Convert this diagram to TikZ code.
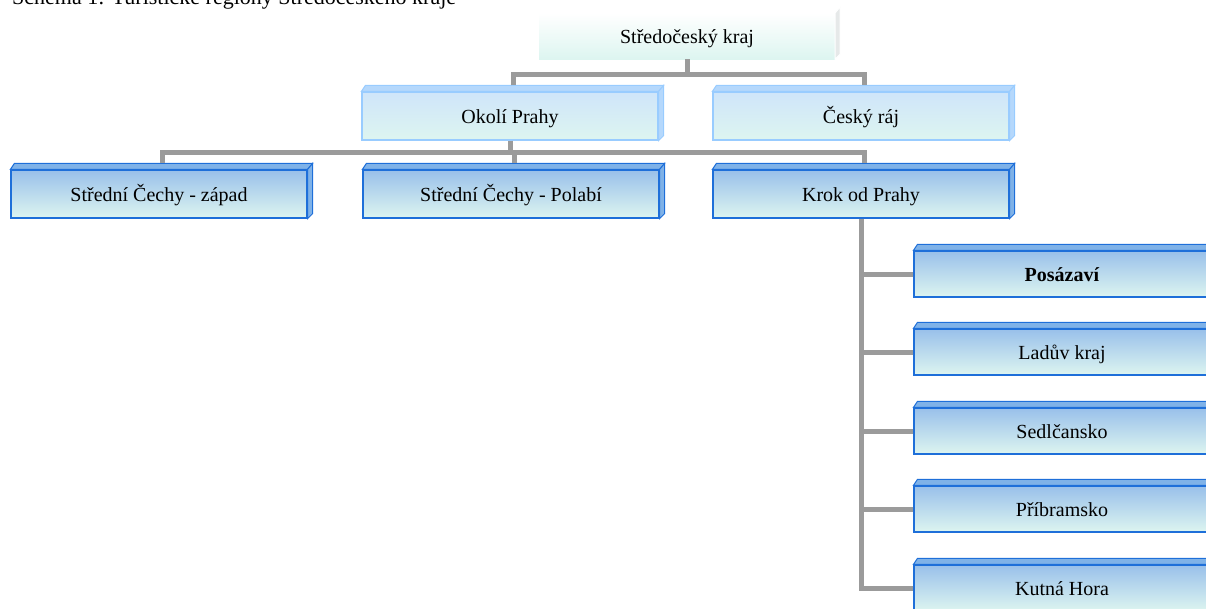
\documentclass[tikz,border=0pt]{standalone}
\usepackage{fontspec}
\setmainfont{Liberation Serif}
\usetikzlibrary{calc}
\definecolor{lnk}{HTML}{9B9B9B}
\definecolor{mint}{HTML}{DDF5F0}
\definecolor{paleblue}{HTML}{CFE5FA}
\definecolor{lightborder}{HTML}{99CCFF}
\definecolor{lighttop}{HTML}{B5D8FC}
\definecolor{midblue}{HTML}{99C0EA}
\definecolor{darkborder}{HTML}{1E6FD9}
\definecolor{darktop}{HTML}{7FB2E8}
\definecolor{greyside}{HTML}{E6E9E9}
\newcommand\boxfaces[4]{%
  \filldraw[fill=#2,draw=#4,line width=1pt] (#1.north west) -- ++(4,-6) -- ($(#1.north east)+(5,-6)$) -- (#1.north east) -- cycle;
  \filldraw[fill=#3,draw=#4,line width=1pt] (#1.north east) -- ++(5,-6) -- ($(#1.south east)+(5,-5)$) -- (#1.south east) -- cycle;
  \coordinate (#1-top) at ($(#1.north)+(3,-6)$);
}
\begin{document}
\begin{tikzpicture}[x=1pt,y=-1pt,
  basebox/.style={rectangle, minimum width=296pt, minimum height=46pt, inner sep=0pt,
    text height=14pt, text depth=0pt,
    font=\fontsize{20}{24}\selectfont, text=black},
  lvone/.style={basebox, top color=white, bottom color=mint, draw=none},
  lvtwo/.style={basebox, minimum height=48pt, top color=paleblue, bottom color=mint, draw=lightborder, line width=1.2pt},
  lvthree/.style={basebox, minimum height=48pt, top color=midblue, bottom color=mint, draw=darkborder, line width=1.2pt},
  lvfour/.style={basebox, minimum height=46pt, top color=midblue, bottom color=mint, draw=darkborder, line width=1.2pt},
  conn/.style={draw=lnk, line width=5pt}
]
\useasboundingbox (0,0) rectangle (1206,608);
\clip (0,0) rectangle (1206,608);

\node[anchor=base west, inner sep=0pt, font=\fontsize{22}{26}\selectfont] (caption) at (12,4)
  {Schéma 1: Turistické regiony Středočeského kraje};

\node[lvone] (kraj) at (687,36) {Středočeský kraj};
\boxfaces{kraj}{white}{greyside}{white}

\node[lvtwo] (okoli) at (510,116) {Okolí Prahy};
\boxfaces{okoli}{lighttop}{lighttop}{lightborder}
\node[lvtwo] (cesky) at (861,116) {Český ráj};
\boxfaces{cesky}{lighttop}{lighttop}{lightborder}

\node[lvthree] (zapad) at (159,194) {Střední Čechy - západ};
\boxfaces{zapad}{darktop}{darktop}{darkborder}
\node[lvthree] (polabi) at (511,194) {Střední Čechy - Polabí};
\boxfaces{polabi}{darktop}{darktop}{darkborder}
\node[lvthree] (krok) at (861,194) {Krok od Prahy};
\boxfaces{krok}{darktop}{darktop}{darkborder}

\node[lvfour] (posaz) at (1062,274) {\textbf{Posázaví}};
\boxfaces{posaz}{darktop}{darktop}{darkborder}
\node[lvfour] (ladu) at (1062,352) {Ladův kraj};
\boxfaces{ladu}{darktop}{darktop}{darkborder}
\node[lvfour] (sedl) at (1062,431) {Sedlčansko};
\boxfaces{sedl}{darktop}{darktop}{darkborder}
\node[lvfour] (pribr) at (1062,509) {Příbramsko};
\boxfaces{pribr}{darktop}{darktop}{darkborder}
\node[lvfour] (kutna) at (1062,588) {Kutná Hora};
\boxfaces{kutna}{darktop}{darktop}{darkborder}

% connectors level 1 -> 2
\draw[conn] (kraj.south) -- ++(0,15) coordinate (ja);
\draw[conn] (okoli-top) |- (ja) -| (cesky-top);
% level 2 -> 3
\draw[conn] (okoli.south) -- ++(0,12) coordinate (jb);
\draw[conn] (zapad-top) |- (jb) -| (krok-top);
\draw[conn] (polabi-top) -- (polabi-top |- jb);
% level 3 -> 4
\draw[conn] (krok.south) -- (krok.south |- kutna.west) -- (kutna.west);
\draw[conn] (posaz.west) -- (posaz.west -| krok.south);
\draw[conn] (ladu.west) -- (ladu.west -| krok.south);
\draw[conn] (sedl.west) -- (sedl.west -| krok.south);
\draw[conn] (pribr.west) -- (pribr.west -| krok.south);
\end{tikzpicture}
\end{document}
